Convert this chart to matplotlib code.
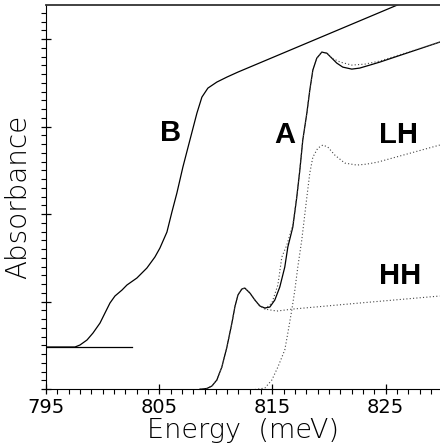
"""Absorbance spectra A and B with HH / LH components."""

import matplotlib
matplotlib.use("Agg")
import matplotlib.pyplot as plt
from matplotlib.ticker import MultipleLocator

# spectrum B (solid)
b_energy = [795.0, 797.56, 798.00, 798.62, 799.15, 799.77, 800.21, 800.65, 801.09, 801.71,
            802.15, 803.03, 803.91, 804.62, 805.06, 805.68, 806.12, 806.56, 807.09, 807.71,
            808.33, 808.77, 809.30, 810.09, 810.98, 811.95, 826.02, 829.78]
b_abs = [0.48, 0.48, 0.503, 0.56, 0.64, 0.754, 0.869, 0.983, 1.063, 1.131,
         1.189, 1.269, 1.383, 1.509, 1.611, 1.794, 2.023, 2.24, 2.537, 2.846,
         3.154, 3.337, 3.44, 3.509, 3.566, 3.623, 4.389, 4.592]

# baseline under B
base_energy = [795.0, 802.6]
base_abs = [0.48, 0.48]

# spectrum A (solid)
a_energy = [808.59, 809.21, 809.65, 810.09, 810.53, 810.98, 811.42, 811.68, 811.95, 812.30,
            812.56, 813.01, 813.45, 813.89, 814.33, 814.77, 815.21, 815.65, 816.09, 816.36,
            816.80, 817.15, 817.42, 817.68, 818.04, 818.30, 818.57, 818.92, 819.36, 819.80,
            820.24, 820.68, 821.21, 822.01, 822.71, 823.60, 824.48, 829.78]
a_abs = [-0.003, 0.006, 0.034, 0.103, 0.251, 0.48, 0.754, 0.937, 1.074, 1.143,
         1.154, 1.097, 1.017, 0.949, 0.926, 0.937, 1.017, 1.166, 1.394, 1.623,
         1.851, 2.194, 2.503, 2.846, 3.154, 3.417, 3.646, 3.783, 3.851, 3.84,
         3.783, 3.726, 3.68, 3.657, 3.669, 3.703, 3.737, 3.966]

# fit of A (dotted, where it leaves the data)
fit_energy = [814.33, 814.95, 815.48, 815.83, 816.27, 816.80, 817.15, 817.42, 817.68, 818.04,
              818.30, 818.57, 818.92, 819.36, 819.80, 820.24, 821.0, 822.01, 823.16, 824.48,
              829.78]
fit_abs = [0.914, 0.983, 1.189, 1.509, 1.646, 1.874, 2.194, 2.503, 2.846, 3.154,
           3.417, 3.646, 3.783, 3.851, 3.84, 3.783, 3.737, 3.703, 3.714, 3.749,
           3.966]

# heavy-hole component (dotted)
hh_energy = [808.59, 809.21, 809.65, 810.09, 810.53, 810.98, 811.42, 811.68, 811.95, 812.30,
             812.56, 813.01, 813.45, 813.89, 814.33, 815.39, 816.80, 822.71, 829.78]
hh_abs = [-0.003, 0.006, 0.034, 0.103, 0.251, 0.48, 0.754, 0.937, 1.074, 1.143,
          1.154, 1.097, 1.017, 0.949, 0.914, 0.891, 0.914, 0.983, 1.063]

# light-hole component (dotted)
lh_energy = [813.45, 814.33, 814.95, 815.48, 816.09, 816.36, 816.71, 816.98, 817.24, 817.59,
             818.04, 818.30, 818.57, 819.01, 819.45, 819.89, 820.51, 821.39, 822.45, 823.33,
             824.30, 829.78]
lh_abs = [-0.006, 0.011, 0.103, 0.251, 0.446, 0.64, 0.903, 1.131, 1.394, 1.703,
          2.194, 2.469, 2.651, 2.754, 2.789, 2.766, 2.674, 2.583, 2.56, 2.571,
          2.594, 2.789]

labels = ["B", "A", "LH", "HH"]
label_energy = [806.03, 816.09, 826.16, 826.24]
label_abs = [2.926, 2.903, 2.903, 1.291]

energy_ticks = [795, 805, 815, 825]

fig = plt.figure(figsize=(4.4, 4.46), dpi=100)
ax = fig.add_axes([46 / 440, 57 / 446, 394 / 440, 384 / 446])

ax.plot(b_energy, b_abs, color="black", lw=0.9)
ax.plot(base_energy, base_abs, color="black", lw=0.9)
ax.plot(a_energy, a_abs, color="black", lw=0.9)
dots = (0, (1, 2))
ax.plot(fit_energy, fit_abs, color="#444444", lw=0.8, ls=dots)
ax.plot(hh_energy, hh_abs, color="#444444", lw=0.8, ls=dots)
ax.plot(lh_energy, lh_abs, color="#444444", lw=0.8, ls=dots)

for text, x, y in zip(labels, label_energy, label_abs):
    ax.text(x, y, text, ha="center", va="center", fontsize=21,
            family="Liberation Sans", fontweight="bold")

ax.set_xlim(795, 829.8)
ax.set_ylim(0, 4.39)
ax.set_xticks(energy_ticks)
ax.set_xticklabels([str(t) for t in energy_ticks])
ax.xaxis.set_minor_locator(MultipleLocator(1))
ax.yaxis.set_major_locator(MultipleLocator(1))
ax.yaxis.set_minor_locator(MultipleLocator(0.1))
ax.set_yticklabels([])
ax.tick_params(which="major", direction="inout", length=7, width=0.9, labelsize=14, pad=3)
ax.tick_params(which="minor", direction="out", length=3.5, width=0.8)

ax.spines["right"].set_visible(False)
ax.spines["top"].set_color("#333333")
ax.spines["top"].set_linewidth(1.3)

ax.set_xlabel("Energy  (meV)", fontsize=19.5, fontweight="light", labelpad=1)
ax.set_ylabel("Absorbance", fontsize=20, fontweight="light", labelpad=3)

fig.savefig("out.png", dpi=100)
